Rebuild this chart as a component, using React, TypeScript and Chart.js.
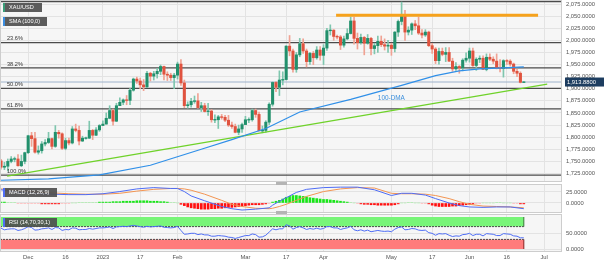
import React, { useEffect, useRef } from 'react';
import { Chart, registerables } from 'chart.js';

Chart.register(...registerables);

// ---------------- data ----------------
// trading-day number of the first candle (Dec 1 2022 = day 0)
const FIRST_DAY = -8;

const dates = [
  'Nov 21','Nov 22','Nov 23','Nov 24','Nov 25','Nov 28','Nov 29','Nov 30',
  'Dec 1','Dec 2','Dec 5','Dec 6','Dec 7','Dec 8','Dec 9','Dec 12','Dec 13','Dec 14','Dec 15','Dec 16','Dec 19','Dec 20','Dec 21','Dec 22','Dec 23','Dec 26','Dec 27','Dec 28','Dec 29','Dec 30',
  'Jan 2','Jan 3','Jan 4','Jan 5','Jan 6','Jan 9','Jan 10','Jan 11','Jan 12','Jan 13','Jan 16','Jan 17','Jan 18','Jan 19','Jan 20','Jan 23','Jan 24','Jan 25','Jan 26','Jan 27','Jan 30','Jan 31',
  'Feb 1','Feb 2','Feb 3','Feb 6','Feb 7','Feb 8','Feb 9','Feb 10','Feb 13','Feb 14','Feb 15','Feb 16','Feb 17','Feb 20','Feb 21','Feb 22','Feb 23','Feb 24','Feb 27','Feb 28',
  'Mar 1','Mar 2','Mar 3','Mar 6','Mar 7','Mar 8','Mar 9','Mar 10','Mar 13','Mar 14','Mar 15','Mar 16','Mar 17','Mar 20','Mar 21','Mar 22','Mar 23','Mar 24','Mar 27','Mar 28','Mar 29','Mar 30','Mar 31',
  'Apr 3','Apr 4','Apr 5','Apr 6','Apr 7','Apr 10','Apr 11','Apr 12','Apr 13','Apr 14','Apr 17','Apr 18','Apr 19','Apr 20','Apr 21','Apr 24','Apr 25','Apr 26','Apr 27','Apr 28',
  'May 1','May 2','May 3','May 4','May 5','May 8','May 9','May 10','May 11','May 12','May 15','May 16','May 17','May 18','May 19','May 22','May 23','May 24','May 25','May 26','May 29','May 30','May 31',
  'Jun 1','Jun 2','Jun 5','Jun 6','Jun 7','Jun 8','Jun 9','Jun 12','Jun 13','Jun 14','Jun 15','Jun 16','Jun 19','Jun 20','Jun 21','Jun 22','Jun 23',
];

const opens = [
  1751,1738,1740,1750,1755,1755,1741,1750,
  1768,1803,1797,1769,1772,1786,1789,1797,1781,1810,1807,1777,1793,1788,1817,1814,1792,1798,1798,1814,1804,1815,
  1824,1827,1839,1855,1833,1865,1872,1877,1876,1897,1920,1916,1908,1904,1932,1926,1931,1936,1946,1930,1928,1923,
  1928,1951,1912,1865,1867,1874,1875,1861,1865,1853,1854,1836,1836,1842,1841,1835,1825,1822,1810,1817,
  1826,1836,1836,1855,1847,1813,1814,1831,1868,1913,1903,1918,1919,1988,1978,1940,1970,1993,1978,1956,1973,1964,1980,
  1969,1984,2020,2021,2008,2007,1990,2003,2014,2040,2004,1995,2006,1994,2004,1983,1989,1998,1991,1988,
  1990,1983,2017,2039,2050,2017,2021,2034,2030,2015,2011,2017,1989,1982,1958,1977,1971,1975,1957,1941,1946,1943,1959,
  1963,1978,1948,1961,1963,1940,1965,1961,1957,1943,1942,1958,1957,1951,1936,1932,1913.2,
];
const highs = [
  1754,1748,1755,1760,1759,1764,1763,1769,
  1804,1810,1810,1782,1791,1795,1810,1798,1824,1814,1809,1798,1798,1822,1827,1823,1802,1800,1833,1816,1820,1826,
  1834,1850,1865,1858,1870,1881,1879,1886,1901,1922,1924,1922,1919,1936,1934,1936,1942,1949,1947,1935,1932,1932,
  1955,1960,1918,1873,1880,1885,1890,1872,1870,1870,1857,1846,1845,1847,1845,1845,1831,1827,1825,1829,
  1843,1840,1858,1858,1852,1823,1834,1871,1914,1915,1937,1935,1989,2010,1982,1975,2004,2003,1982,1975,1977,1987,1987,
  1991,2025,2032,2022,2011,2010,2009,2024,2048,2048,2015,2013,2008,2012,2006,1994,2009,2009,2003,2000,
  1994,2018,2042,2079,2062,2028,2036,2041,2048,2022,2022,2019,1994,1985,1984,1984,1985,1985,1963,1954,1948,1962,1974,
  1984,1984,1964,1968,1968,1972,1972,1966,1972,1960,1960,1960,1960,1953,1940,1935,1915,
];
const lows = [
  1734,1733,1730,1747,1749,1740,1739,1745,
  1766,1781,1767,1765,1767,1782,1787,1776,1779,1798,1774,1774,1784,1786,1811,1784,1791,1796,1797,1795,1803,1812,
  1824,1827,1838,1825,1832,1865,1867,1867,1867,1895,1911,1900,1896,1902,1916,1918,1922,1929,1918,1917,1917,1900,
  1920,1907,1861,1860,1862,1870,1860,1853,1852,1845,1831,1830,1818,1837,1832,1822,1818,1809,1805,1810,
  1826,1830,1833,1841,1813,1809,1810,1826,1864,1894,1886,1908,1918,1968,1934,1934,1966,1973,1945,1950,1950,1961,1959,
  1950,1979,2011,2000,2003,1981,1986,2001,2013,1992,1982,1992,1970,1992,1970,1972,1975,1987,1980,1975,
  1969,1976,2008,2032,2000,2011,2012,2022,2012,2005,2008,1987,1973,1952,1951,1968,1956,1956,1936,1938,1932,1937,1955,
  1955,1946,1938,1954,1940,1937,1958,1952,1941,1935,1924,1950,1947,1931,1925,1912,1912.5,
];
const closes = [
  1738,1740,1750,1755,1755,1741,1750,1768,
  1803,1797,1769,1772,1786,1789,1797,1781,1810,1807,1777,1793,1788,1817,1814,1792,1798,1798,1814,1804,1815,1824,
  1827,1839,1855,1833,1865,1872,1877,1876,1897,1920,1916,1908,1904,1932,1926,1931,1936,1946,1930,1928,1923,1928,
  1951,1912,1865,1867,1874,1875,1861,1865,1853,1854,1836,1836,1842,1841,1835,1825,1822,1810,1817,1826,
  1836,1836,1855,1847,1813,1814,1831,1868,1913,1903,1918,1919,1988,1978,1940,1970,1993,1978,1956,1973,1964,1980,1969,
  1984,2020,2021,2008,2007,1990,2003,2014,2040,2004,1995,2006,1994,2004,1983,1989,1998,1991,1988,1990,
  1983,2017,2039,2050,2017,2021,2034,2030,2015,2011,2017,1989,1982,1958,1977,1971,1975,1957,1941,1946,1943,1959,1963,
  1978,1948,1961,1963,1940,1965,1961,1957,1943,1942,1958,1957,1951,1936,1932,1913.2,1913.88,
];

// 100-day SMA (read at selected trading days)
const smaDays = [-8, 6, 21, 36, 51, 60, 70, 80, 95, 110, 120, 127, 133, 140, 146];
const smaVals = [1711, 1714, 1722, 1742, 1775, 1795, 1818, 1852, 1878, 1907, 1927, 1937, 1941, 1943, 1945];

// rising support trend line and horizontal resistance
const trendDays = [-6.2, 152.9];
const trendVals = [1719.6, 1909.7];
const resistDays = [90.7, 150.2];
const resistVals = [2052, 2052];

// Fibonacci retracement (swing low -> swing high)
const FIB_HIGH = 2079.8;
const FIB_LOW = 1721.6;
const fibRatios = [0, 0.236, 0.382, 0.5, 0.618, 1];
const fibLabels = ['0.0%', '23.6%', '38.2%', '50.0%', '61.8%', '100.0%'];

// MACD (12,26,9)
const macdDays = [-8,-3,2,7,12,17,22,27,32,37,42,44,46,48,52,57,60,63,67,71,72,74,76,79,82,87,92,97,102,107,110,113,117,120,124,127,130,134,138,142,146];
const macdVals = [30,24,22,20,19,19,21,26,32,35,33,33,26,16,5,-8,-13,-16,-14,-11,-5,4,12,24,31,35,36,36,30,17,22,22,18,10,0,-6,-9,-10,-9,-9,-13];
const signalVals = [32,28,25,23,21,20,20,22,27,31,33,33,32,29,20,6,-3,-8,-12,-13,-12,-8,-3,6,15,26,32,35,34,22,21,21,20,17,10,3,-3,-7,-8,-9,-11];
const histVals = [
  2,2,1,1,1,-1,-1,-1,
  -1,-1,-1,-1,-2,-2,-2,-2,-2,-2,-1,-1,-1,0,0,1,1,1,1,1,1,2,
  2,2,2,3,3,3,4,4,4,4,5,5,5,5,4,4,4,3,3,2,1,1,
  0,-3,-6,-9,-11,-12,-13,-14,-14,-14,-13,-13,-12,-12,-11,-10,-10,-9,-8,-7,
  -6,-5,-4,-4,-4,-3,-2,-1,2,4,6,9,13,15,17,17,16,15,14,12,11,10,9,
  8,8,7,6,5,4,3,2,1,0,-1,-2,-3,-3,-4,-4,-5,-5,-5,-5,
  -5,-4,-2,0,0,1,1,0,0,-1,-1,-2,-5,-7,-8,-8,-8,-8,-7,-7,-6,-5,-4,
  -3,-2,-1,-1,0,0,0,0,1,1,0,0,0,-1,-1,-2,-2,
];

// RSI (14,70,30,1)
const rsiVals = [
  65,60,62,63,63,58,60,64,
  70,67,59,60,63,64,66,61,67,66,58,61,60,66,65,60,61,61,64,62,64,66,
  66,67,69,64,69,70,71,70,72,74,72,70,68,71,69,70,71,72,68,67,66,67,
  71,58,46,47,49,49,45,47,44,44,40,40,42,41,40,37,36,33,36,39,
  42,42,47,45,37,38,43,53,63,60,63,63,76,72,62,67,70,66,61,64,62,65,62,
  64,70,70,66,66,61,64,66,71,60,57,60,56,59,54,56,58,56,55,56,
  54,62,67,69,60,61,64,63,59,58,59,51,49,43,48,47,48,43,39,41,40,45,46,
  49,42,46,46,41,48,47,46,42,42,48,47,46,41,40,35,35,
];
const RSI_UPPER = 70;
const RSI_LOWER = 30;

// axes
const xTickDays = [0, 11, 22, 33, 44, 64, 76, 87, 107, 119, 130, 141, 152];
const xTickLabels = ['Dec', '16', '2023', '17', 'Feb', 'Mar', '17', 'Apr', 'May', '17', 'Jun', '16', 'Jul'];
const priceTicks = [1725, 1750, 1775, 1800, 1825, 1850, 1875, 1900, 1925, 1950, 1975, 2000, 2025, 2050, 2075];
const macdTicks = [0, 25];
const rsiTicks = [0, 50];

// label anchor for the moving average text
const DMA_LABEL_DAY = 103;
const DMA_LABEL_PRICE = 1880.8;

// ---------------- styling / layout ----------------
const FONT = "'Liberation Sans', Arial, sans-serif";
const X_MIN = -8.3;
const X_MAX = 157.25;
const AXIS_W = 42;
const UP = '#22906c';
const DOWN = '#e0533f';
const UP_WICK = '#7fc6ae';
const DOWN_WICK = '#f0a293';

const dayOf = (i: number) => FIRST_DAY + i;
const LAST_DAY = dayOf(closes.length - 1);
const LAST_PRICE = closes[closes.length - 1];

const fmt = (v: number) =>
  v.toLocaleString('en-US', { minimumFractionDigits: 4, maximumFractionDigits: 4 });

function xScale(showLabels: boolean) {
  return {
    type: 'linear',
    min: X_MIN,
    max: X_MAX,
    offset: false,
    afterBuildTicks: (s: any) => {
      s.ticks = xTickDays.map((v) => ({ value: v }));
    },
    afterFit: (s: any) => {
      s.height = showLabels ? 12 : 0;
      s.paddingLeft = 0;
      s.paddingRight = 0;
    },
    grid: { color: '#e3e3e3', drawTicks: false, offset: false },
    border: { display: false },
    ticks: {
      display: showLabels,
      padding: 3,
      color: '#555',
      font: { family: FONT, size: 5.8 },
      autoSkip: false,
      maxRotation: 0,
      minRotation: 0,
      callback: (_v: any, i: number) => xTickLabels[i],
    },
  };
}

function yScale(min: number, max: number, ticks: number[]) {
  return {
    type: 'linear',
    position: 'right',
    min,
    max,
    afterBuildTicks: (s: any) => {
      s.ticks = ticks.map((v) => ({ value: v }));
    },
    afterFit: (s: any) => {
      s.width = AXIS_W;
      s.paddingTop = 0;
      s.paddingBottom = 0;
    },
    grid: { color: '#e3e3e3', drawTicks: false },
    border: { display: false },
    ticks: {
      padding: 4,
      color: '#555',
      font: { family: FONT, size: 5.8 },
      callback: (v: any) => fmt(Number(v)),
    },
  };
}

const panelPlugin = {
  id: 'panelFrame',
  beforeDraw(chart: any) {
    const { ctx, chartArea: a } = chart;
    ctx.save();
    ctx.fillStyle = '#f6f6f6';
    ctx.fillRect(a.left, a.top, a.right - a.left, a.bottom - a.top);
    ctx.restore();
  },
  afterDraw(chart: any) {
    const { ctx, chartArea: a } = chart;
    ctx.save();
    ctx.strokeStyle = '#cdcdcd';
    ctx.lineWidth = 1;
    ctx.strokeRect(a.left + 0.5, a.top - 0.5, a.right - a.left - 1, a.bottom - a.top + 1);
    ctx.restore();
  },
};

const mainExtras = {
  id: 'mainExtras',
  afterDraw(chart: any) {
    const { ctx, chartArea: a } = chart;
    const x = chart.scales.x;
    const y = chart.scales.y;
    ctx.save();
    ctx.font = `5.6px ${FONT}`;
    ctx.fillStyle = '#333';
    ctx.textAlign = 'left';
    ctx.textBaseline = 'bottom';
    fibRatios.forEach((r, k) => {
      const py = y.getPixelForValue(FIB_HIGH - r * (FIB_HIGH - FIB_LOW));
      if (py - 7 > a.top) ctx.fillText(fibLabels[k], a.left + 7, py - 1);
    });
    ctx.font = `6.4px ${FONT}`;
    ctx.fillStyle = '#3b8fdc';
    ctx.textBaseline = 'middle';
    ctx.fillText('100-DMA', x.getPixelForValue(DMA_LABEL_DAY), y.getPixelForValue(DMA_LABEL_PRICE));
    // current price tag on the axis
    const py = y.getPixelForValue(LAST_PRICE);
    ctx.fillStyle = '#1d3d60';
    ctx.fillRect(a.right + 3, py - 4.5, AXIS_W - 3, 9);
    ctx.fillStyle = '#ffffff';
    ctx.font = `5.8px ${FONT}`;
    ctx.fillText(fmt(LAST_PRICE), a.right + 5, py + 0.5);
    ctx.restore();
  },
};

const baseOptions = (padTop: number, padBottom: number) => ({
  responsive: false,
  animation: false,
  devicePixelRatio: 1,
  events: [],
  layout: { padding: { top: padTop, bottom: padBottom, left: 0, right: 0 } },
  plugins: { legend: { display: false }, tooltip: { enabled: false } },
});

const line = (data: any[], color: string, width: number, order: number, extra: any = {}) => ({
  type: 'line',
  data,
  borderColor: color,
  borderWidth: width,
  pointRadius: 0,
  tension: 0,
  fill: false,
  order,
  ...extra,
});

function mainConfig(): any {
  const bodies = opens.map((o, i) => {
    const c = closes[i];
    let lo = Math.min(o, c);
    let hi = Math.max(o, c);
    if (hi - lo < 1.4) {
      const m = (hi + lo) / 2;
      lo = m - 0.7;
      hi = m + 0.7;
    }
    return { x: dayOf(i), y: [lo, hi] };
  });
  const wicks = highs.map((h, i) => ({ x: dayOf(i), y: [lows[i], h] }));
  const bodyColors = closes.map((c, i) => (c >= opens[i] ? UP : DOWN));
  const wickColors = closes.map((c, i) => (c >= opens[i] ? UP_WICK : DOWN_WICK));

  const fibSets = fibRatios.map((r) => {
    const v = FIB_HIGH - r * (FIB_HIGH - FIB_LOW);
    return line([{ x: X_MIN, y: v }, { x: X_MAX, y: v }], '#4b4b4b', 1.2, 20);
  });

  return {
    type: 'line',
    data: {
      datasets: [
        line([{ x: X_MIN, y: LAST_PRICE }, { x: X_MAX, y: LAST_PRICE }], '#9fb3cc', 1, 25),
        ...fibSets,
        {
          type: 'bar',
          data: wicks,
          backgroundColor: wickColors,
          barThickness: 1,
          grouped: false,
          borderWidth: 0,
          order: 12,
        },
        {
          type: 'bar',
          data: bodies,
          backgroundColor: bodyColors,
          barThickness: 2.4,
          grouped: false,
          borderWidth: 0,
          order: 11,
        },
        line(trendDays.map((d, k) => ({ x: d, y: trendVals[k] })), '#6fd22a', 1.3, 5),
        line(smaDays.map((d, k) => ({ x: d, y: smaVals[k] })), '#2f8fe8', 1.2, 4),
        line(resistDays.map((d, k) => ({ x: d, y: resistVals[k] })), '#f6a21c', 3, 3),
      ],
    },
    options: {
      ...baseOptions(1, 2),
      scales: {
        x: xScale(false),
        y: yScale(1709.5, 2081.2, priceTicks),
      },
    },
    plugins: [panelPlugin, mainExtras],
  };
}

function macdConfig(): any {
  const histColors = histVals.map((h) =>
    h >= 0 ? (h >= 2 ? '#19e619' : '#a9efa9') : h <= -2 ? '#ff1010' : '#ffb3b3'
  );
  return {
    type: 'line',
    data: {
      datasets: [
        {
          type: 'bar',
          data: histVals.map((h, i) => ({ x: dayOf(i), y: h })),
          backgroundColor: histColors,
          barThickness: 2,
          grouped: false,
          borderWidth: 0,
          order: 10,
        },
        line(signalVals.map((v, k) => ({ x: macdDays[k], y: v })), '#f39552', 1, 5),
        line(macdVals.map((v, k) => ({ x: macdDays[k], y: v })), '#4f6df5', 1, 4),
      ],
    },
    options: {
      ...baseOptions(2, 2),
      scales: {
        x: xScale(false),
        y: yScale(-20.5, 40.9, macdTicks),
      },
    },
    plugins: [panelPlugin],
  };
}

function rsiConfig(): any {
  return {
    type: 'line',
    data: {
      datasets: [
        line([{ x: X_MIN, y: 100 }, { x: LAST_DAY, y: 100 }], '#78f578', 0, 20, {
          fill: { value: RSI_UPPER },
          backgroundColor: '#78f578',
        }),
        line([{ x: X_MIN, y: RSI_LOWER }, { x: LAST_DAY, y: RSI_LOWER }], '#ff7b7b', 0, 20, {
          fill: { value: 0 },
          backgroundColor: '#ff7b7b',
        }),
        line([{ x: LAST_DAY, y: RSI_UPPER }, { x: LAST_DAY, y: 100 }], '#2f7a2f', 1, 15),
        line([{ x: LAST_DAY, y: 0 }, { x: LAST_DAY, y: RSI_LOWER }], '#8a1c1c', 1, 15),
        line([{ x: X_MIN, y: RSI_UPPER }, { x: LAST_DAY, y: RSI_UPPER }], '#4a4a4a', 1, 14, { borderDash: [2, 1] }),
        line([{ x: X_MIN, y: RSI_LOWER }, { x: LAST_DAY, y: RSI_LOWER }], '#4a4a4a', 1, 14, { borderDash: [2, 1] }),
        line(rsiVals.map((v, i) => ({ x: dayOf(i), y: v })), '#4f6df5', 1, 5),
      ],
    },
    options: {
      ...baseOptions(2, 0),
      scales: {
        x: xScale(true),
        y: yScale(-6.25, 106.25, rsiTicks),
      },
    },
    plugins: [panelPlugin],
  };
}

const tag = (top: number, width: number, edge: string): React.CSSProperties => ({
  position: 'absolute',
  left: 3,
  top,
  width,
  height: 9,
  boxSizing: 'border-box',
  background: 'rgba(78,78,78,0.92)',
  borderLeft: `2px solid ${edge}`,
  color: '#ffffff',
  font: `5.6px ${FONT}`,
  lineHeight: '9px',
  paddingLeft: 4,
  whiteSpace: 'nowrap',
  overflow: 'hidden',
});

const handle = (top: number): React.CSSProperties => ({
  position: 'absolute',
  left: 276,
  top,
  width: 11,
  height: 3,
  background: '#b4b4b4',
});

export default function App() {
  const mainRef = useRef<HTMLCanvasElement>(null);
  const macdRef = useRef<HTMLCanvasElement>(null);
  const rsiRef = useRef<HTMLCanvasElement>(null);

  useEffect(() => {
    const charts = [
      new Chart(mainRef.current as HTMLCanvasElement, mainConfig()),
      new Chart(macdRef.current as HTMLCanvasElement, macdConfig()),
      new Chart(rsiRef.current as HTMLCanvasElement, rsiConfig()),
    ];
    return () => charts.forEach((c) => c.destroy());
  }, []);

  return (
    <div
      style={{
        position: 'fixed',
        left: 0,
        top: 0,
        width: 604,
        height: 263,
        background: '#ffffff',
        overflow: 'hidden',
      }}
      data-dates={dates.length}
    >
      <canvas ref={mainRef} width={604} height={183}
        style={{ position: 'absolute', left: 0, top: 0, width: 604, height: 183 }} />
      <canvas ref={macdRef} width={604} height={31}
        style={{ position: 'absolute', left: 0, top: 183, width: 604, height: 31 }} />
      <canvas ref={rsiRef} width={604} height={50}
        style={{ position: 'absolute', left: 0, top: 213, width: 604, height: 50 }} />
      <div style={tag(3, 39, '#3a9d78')}>XAU/USD</div>
      <div style={tag(17, 44, '#3b8de0')}>SMA (100,0)</div>
      <div style={tag(188, 54, '#4f6df5')}>MACD (12,26,9)</div>
      <div style={tag(218, 54, '#4f6df5')}>RSI (14,70,30,1)</div>
      <div style={handle(182)} />
      <div style={handle(211)} />
    </div>
  );
}
